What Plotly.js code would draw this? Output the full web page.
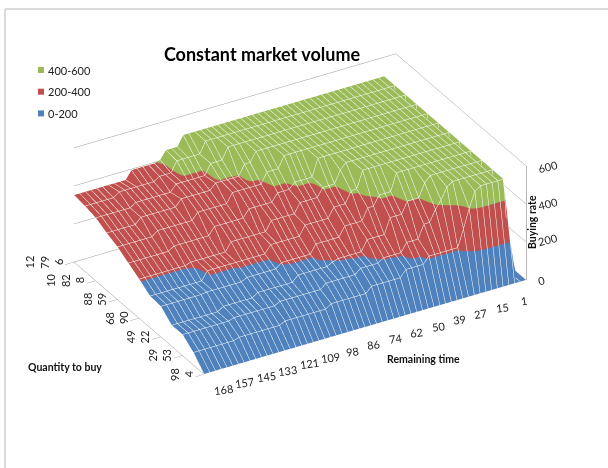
<!DOCTYPE html>
<html><head><meta charset="utf-8">
<script src="https://cdn.plot.ly/plotly-3.0.1.min.js"></script>
<style>html,body{margin:0;padding:0;background:#fff}#c{width:608px;height:468px}</style></head>
<body><div id="c"></div>
<script>
const timeLabels=[168,157,145,133,121,109,98,86,74,62,50,39,27,15,1];
const qtyLabels=[["12","79","6"],["10","82","8"],["88","59"],["68","90"],["49","22"],["29","53"],["98","4"]];
const bandNames=["400-600","200-400","0-200"];
const bandColors=["#9bbb59","#c0504d","#4f81bd"];
const row0=[0,0,0,0,0,0,0,0,0,0,0,0,0,0,0,0,0,0,0,0,0,0,0,0,0,0,0,0,0,0,0,0,0,0,0,0,0,0,0,0,0,0,0,0,0,0,0,0,0,0,0,0,0,0,0,0,0];
const row1=[65,65,65,65,65,65,65,65,75,75,75,75,75,75,75,75,90,90,90,90,90,90,90,90,110,110,110,110,110,110,110,140,140,140,140,140,140,175,175,175,175,210,210,210,210,210,210,300,400,480,500,500,500,500,500,0,0];
const row2=[110,110,110,110,110,110,110,110,110,120,120,120,120,120,120,120,120,135,135,135,135,135,135,135,135,160,160,160,160,160,160,185,185,185,185,205,205,205,205,250,250,250,320,320,380,420,480,500,500,500,500,500,500,500,500,0,0];
const row3=[110,110,110,110,110,110,110,110,110,130,130,130,130,130,130,150,150,150,150,150,150,150,180,180,180,180,180,180,195,205,205,205,205,205,260,260,260,260,340,340,340,400,400,400,470,500,500,500,500,500,500,500,500,500,500,0,0];
const row4=[160,160,160,160,160,160,160,160,165,165,165,165,165,165,165,180,180,180,180,180,180,205,205,205,205,205,205,250,250,250,250,250,300,300,300,300,360,360,410,410,410,500,500,500,500,500,500,500,500,500,500,500,500,500,500,0,0];
const row5=[165,165,165,165,165,165,165,165,165,165,210,210,210,210,210,210,210,210,210,210,210,250,250,250,250,250,250,300,300,300,300,300,350,350,350,410,410,500,500,500,500,500,500,500,500,500,500,500,500,500,500,500,500,500,500,0,0];
const row6=[205,205,205,205,205,205,205,205,205,215,215,215,215,215,215,215,260,260,260,260,260,260,260,310,310,310,310,310,360,360,360,360,405,405,405,470,500,500,500,500,500,500,500,500,500,500,500,500,500,500,500,500,500,500,500,0,0];
const row7=[240,240,240,240,240,240,240,240,260,260,260,260,260,260,260,300,300,300,300,300,300,340,340,340,340,340,380,380,380,410,410,410,410,500,500,500,500,500,500,500,500,500,500,500,500,500,500,500,500,500,500,500,500,500,500,0,0];
const row8=[276,276,276,276,276,276,276,300,300,300,300,300,300,300,335,335,335,335,335,335,385,385,385,385,385,385,440,440,440,500,500,500,500,500,500,500,500,500,500,500,500,500,500,500,500,500,500,500,500,500,500,500,500,500,500,0,0];
const row9=[300,300,300,300,300,300,330,330,330,330,330,330,330,365,365,365,365,365,365,395,395,395,395,395,450,450,500,500,500,500,500,500,500,500,500,500,500,500,500,500,500,500,500,500,500,500,500,500,500,500,500,500,500,500,500,0,0];
const row10=[330,330,330,330,330,330,330,350,350,350,350,350,350,350,385,385,385,385,385,385,440,440,440,500,500,500,500,500,500,500,500,500,500,500,500,500,500,500,500,500,500,500,500,500,500,500,500,500,500,500,500,500,500,500,500,0,0];
const row11=[343,343,343,343,343,343,365,365,365,365,365,365,365,385,385,385,440,440,440,440,440,500,500,500,500,500,500,500,500,500,500,500,500,500,500,500,500,500,500,500,500,500,500,500,500,500,500,500,500,500,500,500,500,500,500,0,0];
const row12=[352,352,352,352,352,352,352,352,352,352,395,395,395,395,395,405,447,447,447,500,500,500,500,500,500,500,500,500,500,500,500,500,500,500,500,500,500,500,500,500,500,500,500,500,500,500,500,500,500,500,500,500,500,500,500,0,0];
const rows=[row0,row1,row2,row3,row4,row5,row6,row7,row8,row9,row10,row11,row12];

const W=608,H=468;
const px=x=>x/W, py=y=>1-y/H;
const axisOpts={showbackground:false,showspikes:false,showticklabels:false,title:{text:''},showgrid:false,zeroline:false};
const surface={type:'surface',x:row0.map((_,i)=>i),y:rows.map((_,k)=>k),z:rows,cmin:0,cmax:600,showscale:false,hoverinfo:'skip',
 colorscale:[[0,bandColors[2]],[1/3,bandColors[2]],[1/3,bandColors[1]],[2/3,bandColors[1]],[2/3,bandColors[0]],[1,bandColors[0]]],
 lighting:{ambient:1,diffuse:0,specular:0,fresnel:0,roughness:1},
 contours:{x:{show:true,start:0,end:56,size:1,color:'#ffffff',width:2,highlight:false},y:{show:true,start:0,end:12,size:1,color:'#ffffff',width:2,highlight:false},z:{highlight:false}}};
const annotations=[];
const txt=(x,y,text,angle,opts={})=>annotations.push(Object.assign({xref:'paper',yref:'paper',x:px(x),y:py(y),text:String(text),textangle:angle,showarrow:false,xanchor:'center',yanchor:'middle',font:{family:'Lato, sans-serif',size:11,color:'#222'}},opts));
timeLabels.forEach((t,j)=>txt(223+21.5*j,389-6.3*j,t,-8));
qtyLabels.forEach((lv,j)=>{const n=lv.length;lv.forEach((t,l)=>txt(58+21.7*j-14.3*(n-1-l),262+18.67*j,t,-90));});
[[0,541,280],[200,548,240],[400,548,203],[600,548,166]].forEach(([v,x,y])=>txt(x,y,v,-14));
const bold={font:{family:'Lato, sans-serif',size:10.5,color:'#111',weight:700}};
txt(65,367,'<b>Quantity to buy</b>',0,bold);
txt(424,359,'<b>Remaining time</b>',0,bold);
txt(532,222,'<b>Buying rate</b>',-90,bold);
const layout={width:W,height:H,margin:{l:0,r:0,t:0,b:0},paper_bgcolor:'#fff',showlegend:false,
 title:{text:'<b>Constant market volume</b>',x:262/W,xanchor:'center',y:py(55),yanchor:'middle',font:{family:'Lato, sans-serif',size:18,color:'#000'}},
 annotations,
 shapes:[{type:'line',xref:'paper',yref:'paper',x0:px(5),x1:px(608),y0:py(9),y1:py(9),line:{color:'#d9d9d9',width:2}},
         {type:'line',xref:'paper',yref:'paper',x0:px(5),x1:px(5),y0:py(9),y1:py(468),line:{color:'#d9d9d9',width:2}},
         {type:'line',xref:'paper',yref:'paper',x0:px(526.5),x1:px(526.5),y0:py(166),y1:py(280),line:{color:'#b5b5b5',width:1}}],
 scene:{domain:{x:[0,0.987],y:[0.086,1]},aspectmode:'manual',aspectratio:{x:1.741,y:1.209,z:0.617},
  camera:{projection:{type:'orthographic'},up:{x:0,y:0,z:1},center:{x:0,y:0,z:0},eye:{x:-0.87,y:-1.494,z:1.003}},
  xaxis:Object.assign({},axisOpts,{range:[0,56],showline:false}),
  yaxis:Object.assign({},axisOpts,{range:[0,12],showline:true,linecolor:'#999',linewidth:1,ticks:'outside',tickvals:[0,2,4,6,8,10,12],ticklen:3,tickcolor:'#999'}),
  zaxis:Object.assign({},axisOpts,{range:[0,600],showgrid:true,gridcolor:'#999',gridwidth:1,tickvals:[0,200,400,600],showline:false})}
};
bandNames.forEach((n,j)=>{
 const y=70+21.7*j;
 layout.shapes.push({type:'rect',xref:'paper',yref:'paper',x0:px(38),x1:px(44),y0:py(y+3),y1:py(y-3),fillcolor:bandColors[j],line:{width:0}});
 txt(46,y,n,0,{xanchor:'left'});
});
Plotly.newPlot('c',[surface],layout,{displayModeBar:false});
</script></body></html>
